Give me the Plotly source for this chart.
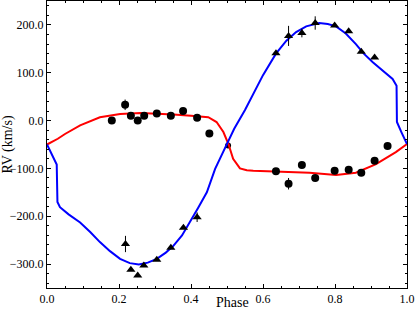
import plotly.graph_objects as go

# Primary (circles) observed RVs
circ_phase = [0.180, 0.217, 0.233, 0.252, 0.270, 0.305, 0.344, 0.378, 0.417, 0.451,
              0.636, 0.671, 0.708, 0.745, 0.799, 0.838, 0.873, 0.910, 0.946]
circ_rv = [0, 33, 10, 0, 10, 15, 10, 20, 6, -27,
           -106, -132, -93, -120, -105, -103, -109, -84, -53]
circ_err = [0, 11, 0, 0, 0, 0, 0, 0, 0, 0,
            0, 12, 6, 6, 0, 0, 7, 0, 0]

# Point at the conjunction crossing
cross_phase = [0.503]
cross_rv = [-52]

# Secondary (triangles) observed RVs
tri_phase = [0.218, 0.233, 0.252, 0.269, 0.305, 0.344, 0.379, 0.417,
             0.636, 0.671, 0.708, 0.745, 0.799, 0.838, 0.873, 0.910]
tri_rv = [-258, -312, -324, -303, -291, -266, -224, -202,
          141, 177, 183, 204, 199, 187, 144, 132]
tri_err = [17, 0, 0, 0, 0, 0, 0, 10,
           0, 21, 9, 14, 0, 0, 0, 0]

# Model curve, primary (red)
red_phase = [0.0, 0.03, 0.05, 0.092, 0.147, 0.203, 0.26, 0.30, 0.351, 0.40, 0.448, 0.471,
             0.49, 0.504, 0.517, 0.536, 0.555, 0.573, 0.647, 0.729, 0.803, 0.858, 0.914,
             0.942, 0.969, 1.0]
red_rv = [-50, -38, -28, -10, 7, 14, 16, 15, 12.5, 10, 7, -3,
          -24, -49, -80, -100, -104, -105, -107, -109, -114, -109, -91,
          -78, -66, -49]

# Model curve, secondary (blue)
blue_phase = [0.0, 0.015, 0.027, 0.029, 0.036, 0.06, 0.092, 0.12, 0.147, 0.175, 0.203,
              0.23, 0.255, 0.28, 0.305, 0.33, 0.351, 0.375, 0.397, 0.42, 0.444, 0.467,
              0.494, 0.52, 0.55, 0.60, 0.636, 0.665, 0.692, 0.72, 0.756, 0.78, 0.803,
              0.83, 0.858, 0.88, 0.905, 0.93, 0.96, 0.971, 0.972, 0.985, 1.0]
blue_rv = [-50, -72, -92, -170, -181, -196, -213, -233, -254, -273, -289,
           -298, -301, -297, -289, -276, -262, -240, -213, -182, -150, -101,
           -58, -17, 22, 95, 140, 167, 185, 197, 204, 202, 197,
           182, 160, 140, 122, 106, 87, 73, -3, -25, -49]

x_ticks = [0.0, 0.2, 0.4, 0.6, 0.8, 1.0]
y_ticks = [-300, -200, -100, 0, 100, 200]

font_family = "Liberation Serif, Times New Roman, serif"

fig = go.Figure()
fig.add_trace(go.Scatter(x=cross_phase, y=cross_rv, mode="markers",
                         marker=dict(symbol="circle", size=6, color="black"),
                         showlegend=False))
fig.add_trace(go.Scatter(x=red_phase, y=red_rv, mode="lines",
                         line=dict(color="#ff0000", width=2), showlegend=False))
fig.add_trace(go.Scatter(x=blue_phase, y=blue_rv, mode="lines",
                         line=dict(color="#0000ff", width=2), showlegend=False))
fig.add_trace(go.Scatter(x=circ_phase, y=circ_rv, mode="markers",
                         marker=dict(symbol="circle", size=8, color="black"),
                         error_y=dict(type="data", array=circ_err, visible=True,
                                      color="black", thickness=1, width=0),
                         showlegend=False))
fig.add_trace(go.Scatter(x=tri_phase, y=tri_rv, mode="markers",
                         marker=dict(symbol="triangle-up", size=8, color="black"),
                         error_y=dict(type="data", array=tri_err, visible=True,
                                      color="black", thickness=1, width=0),
                         showlegend=False))

axis_common = dict(
    showline=True, linecolor="black", linewidth=1, mirror="ticks",
    ticks="inside", ticklen=4, tickcolor="black", tickwidth=1,
    showgrid=False, zeroline=False,
    tickfont=dict(family=font_family, size=12, color="black"),
)

fig.update_xaxes(range=[0, 1], tickvals=x_ticks, tickformat=".1f",
                 minor=dict(dtick=0.05, ticks="inside", ticklen=2, tickcolor="black"),
                 **axis_common)
fig.update_yaxes(range=[-350, 250], tickvals=y_ticks, tickformat=".1f",
                 minor=dict(dtick=20, tick0=0, ticks="inside", ticklen=2, tickcolor="black"),
                 title=dict(text="RV (km/s)", standoff=4,
                            font=dict(family=font_family, size=14, color="black")),
                 **axis_common)

fig.add_annotation(text="Phase", xref="paper", yref="paper", x=0.514, y=-0.052,
                   xanchor="center", yanchor="middle", showarrow=False,
                   font=dict(family=font_family, size=14, color="black"))

fig.update_layout(
    width=416, height=316,
    margin=dict(l=47, r=9, t=1, b=28, autoexpand=False),
    paper_bgcolor="white", plot_bgcolor="white",
    font=dict(family=font_family, color="black"),
)

fig.write_html(
    "out.html",
    config={"displayModeBar": False},
    post_script="document.body.style.margin='0';document.body.style.padding='0';"
                "document.body.style.overflow='hidden';",
)
